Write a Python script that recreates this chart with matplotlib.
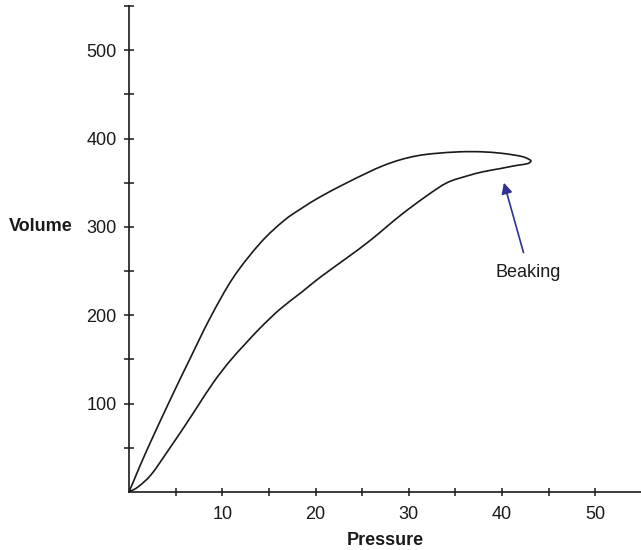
import matplotlib
matplotlib.use("Agg")
import matplotlib.pyplot as plt
import numpy as np
from matplotlib.path import Path
from matplotlib.patches import PathPatch

plt.rcParams['font.family'] = ['Liberation Sans', 'DejaVu Sans']

# Inflation/deflation pressure-volume loop (pressure in cmH2O, volume in mL)
upper_pressure = [0, 0.6, 1.9, 4.4, 6.55, 8.7, 11.2, 14.1, 16.6, 18.5, 20.5,
                  23.0, 25.5, 27.3, 29.1, 30.9, 32.7, 35.5, 37.8, 39.8, 41.2,
                  42.2, 42.8, 43.1]
upper_volume = [0, 15, 47, 104, 151, 197, 243, 282, 307, 321, 334,
                348, 361, 369.5, 376, 380.5, 383, 385, 385, 383.5, 381.5,
                379.5, 377, 374.5]

lower_pressure = [42.7, 41.5, 39.8, 38.0, 36.2, 34.1, 31.9, 29.1, 25.9, 23.5,
                  20.5, 18.5, 16.2, 14.1, 12.5, 10.8, 9.05, 7.3, 6.0, 4.2,
                  2.4, 1.0, 0]
lower_volume = [371.5, 369.5, 366, 362.5, 357.5, 350, 335, 313, 285, 266,
                243, 226, 207, 186, 168, 148, 124, 96, 75, 47,
                20, 6, 0]

x_ticks = [5, 10, 15, 20, 25, 30, 35, 40, 45, 50]
x_tick_labels = ['', '10', '', '20', '', '30', '', '40', '', '50']
y_ticks = [50, 100, 150, 200, 250, 300, 350, 400, 450, 500, 550]
y_tick_labels = ['', '100', '', '200', '', '300', '', '400', '', '500', '']

annotation_text = 'Beaking'
arrow_tip = (40.2, 350)
arrow_tail = (42.3, 271)
label_pos = (42.8, 248)


def smooth_path(xs, ys):
    """Catmull-Rom curve through the points, expressed as cubic Bezier segments."""
    pts = np.column_stack([xs, ys]).astype(float)
    n = len(pts)
    verts = [pts[0]]
    codes = [Path.MOVETO]
    for i in range(n - 1):
        p0 = pts[i - 1] if i > 0 else pts[i]
        p1, p2 = pts[i], pts[i + 1]
        p3 = pts[i + 2] if i + 2 < n else pts[i + 1]
        c1 = p1 + (p2 - p0) / 6.0
        c2 = p2 - (p3 - p1) / 6.0
        verts += [c1, c2, p2]
        codes += [Path.CURVE4] * 3
    return Path(np.array(verts), codes)


fig = plt.figure(figsize=(6.41, 5.5), dpi=100)
ax = fig.add_axes([129 / 641, 58 / 550, 512 / 641, 486 / 550])

loop = smooth_path(upper_pressure + lower_pressure, upper_volume + lower_volume)
ax.add_patch(PathPatch(loop, facecolor='none', edgecolor='#1a1a1a', lw=1.2,
                       joinstyle='round', capstyle='round'))

ax.set_xlim(0, 54.9)
ax.set_ylim(0, 550)

for side in ('top', 'right'):
    ax.spines[side].set_visible(False)
for side in ('left', 'bottom'):
    ax.spines[side].set_linewidth(1.2)
    ax.spines[side].set_color('#1a1a1a')

ax.set_xticks(x_ticks)
ax.set_xticklabels(x_tick_labels)
ax.set_yticks(y_ticks)
ax.set_yticklabels(y_tick_labels)
ax.tick_params(axis='y', direction='inout', length=6.5, width=1.1,
               pad=5.5, labelsize=13, colors='#1a1a1a')
ax.tick_params(axis='x', direction='inout', length=5.5, width=1.1,
               pad=7, labelsize=13, colors='#1a1a1a')

ax.set_xlabel('Pressure', fontsize=13, fontweight='bold', color='#1a1a1a',
              va='center')
ax.xaxis.set_label_coords(0.5, -0.099)
ax.set_ylabel('Volume', fontsize=13, fontweight='bold', color='#1a1a1a',
              rotation=0, ha='right', va='center')
ax.yaxis.set_label_coords(-0.111, 300 / 550)

ax.annotate('', xy=arrow_tip, xytext=arrow_tail,
            arrowprops=dict(arrowstyle='-|>', color='#2e3192', lw=1.2,
                            mutation_scale=16, shrinkA=0, shrinkB=0))
ax.text(*label_pos, annotation_text, fontsize=13, color='#1a1a1a',
        ha='center', va='center')

fig.savefig('out.png', dpi=100)
